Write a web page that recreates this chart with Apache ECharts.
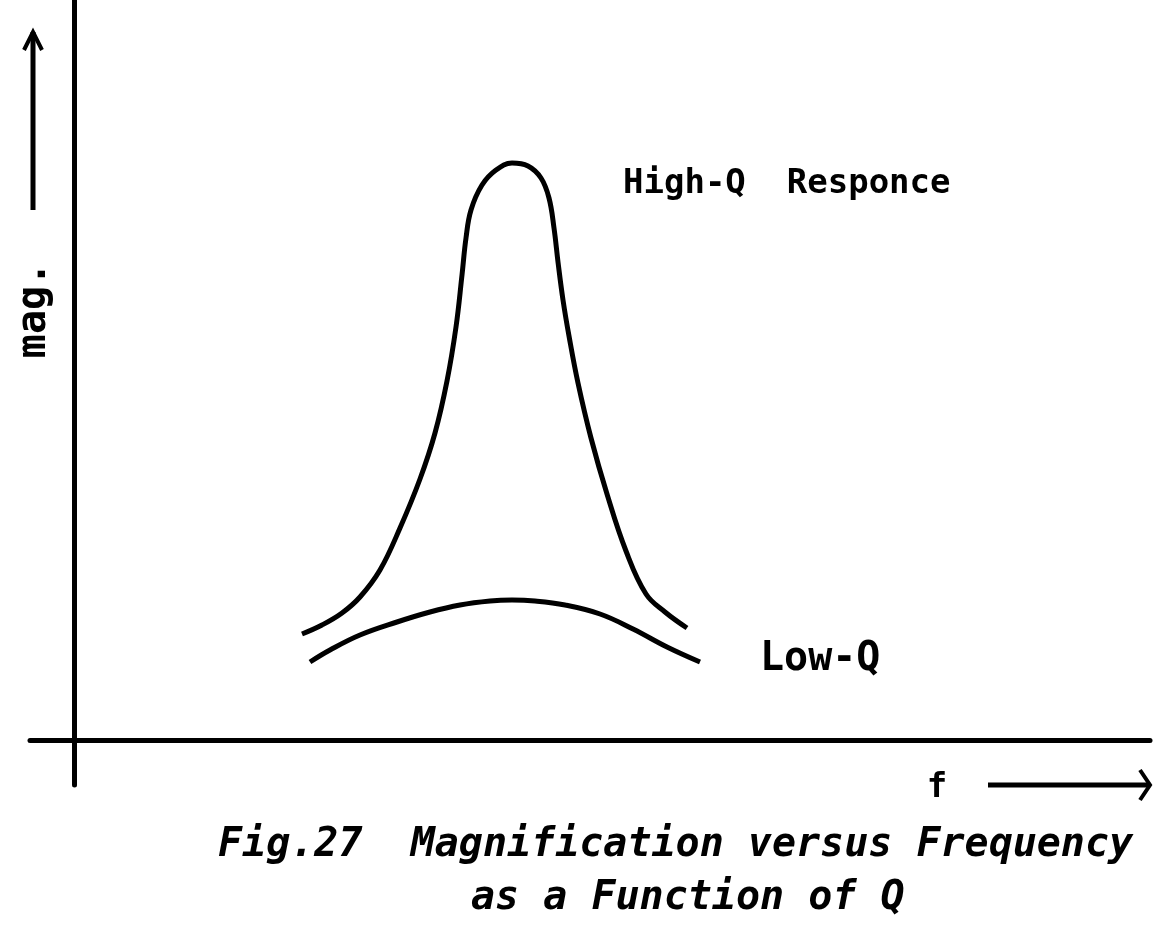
<!DOCTYPE html>
<html>
<head>
<meta charset="utf-8">
<script src="https://cdn.jsdelivr.net/npm/echarts@6/dist/echarts.min.js"></script>
<style>
html,body{margin:0;padding:0;background:#fff;}
#chart{width:1165px;height:928px;}
</style>
</head>
<body>
<div id="chart"></div>
<script>
// High-Q response: [frequency, magnitude]
const highQ = [
  [22.8,10.6],[24.8,11.5],[26.8,12.7],[28.6,14.3],[30.6,17.0],[32.6,21.2],
  [34.6,26.1],[36.1,30.7],[37.3,35.9],[38.2,41.3],[38.8,46.5],[39.2,50.2],
  [39.7,53.0],[40.8,55.5],[42.2,57.0],[43.8,57.7],[45.4,57.4],[46.7,56.2],
  [47.5,54.2],[48.0,51.2],[48.4,47.8],[48.9,44.0],[49.5,40.4],[50.4,35.7],
  [51.7,30.2],[53.3,24.6],[55.2,18.9],[57.2,14.6],[59.1,12.8],[61.3,11.2]
];
// Low-Q response: [frequency, magnitude]
const lowQ = [
  [23.6,7.8],[25.6,9.0],[28.6,10.5],[32.3,11.8],[35.6,12.8],[38.6,13.5],
  [41.6,13.9],[43.8,14.0],[46.1,13.9],[49.1,13.5],[52.6,12.6],[55.9,11.1],
  [59.3,9.3],[62.6,7.8]
];
const highLabel = 'High-Q  Responce';
const lowLabel = 'Low-Q';
const yLabel = 'mag.';
const xLabel = 'f';
const caption1 = 'Fig.27  Magnification versus Frequency';
const caption2 = 'as a Function of Q';

const mono = '"DejaVu Sans Mono", "Liberation Mono", monospace';
const chart = echarts.init(document.getElementById('chart'));
chart.setOption({
  backgroundColor: '#ffffff',
  animation: false,
  grid: {left: 30, right: 15, top: 0, bottom: 143},
  xAxis: {
    type: 'value', min: -4.4, max: 107.6,
    axisLine: {show: true, onZero: true, lineStyle: {color: '#000', width: 5}},
    axisTick: {show: false}, axisLabel: {show: false}, splitLine: {show: false}
  },
  yAxis: {
    type: 'value', min: -4.5, max: 74,
    axisLine: {show: true, onZero: true, lineStyle: {color: '#000', width: 5}},
    axisTick: {show: false}, axisLabel: {show: false}, splitLine: {show: false}
  },
  series: [
    {type: 'line', name: 'High-Q', data: highQ, smooth: 0.4, symbol: 'none',
     lineStyle: {color: '#000', width: 5}},
    {type: 'line', name: 'Low-Q', data: lowQ, smooth: 0.4, symbol: 'none',
     lineStyle: {color: '#000', width: 5}}
  ],
  graphic: [
    {type: 'line', shape: {x1: 33, y1: 210, x2: 33, y2: 32}, style: {stroke: '#000', lineWidth: 5}},
    {type: 'polyline', shape: {points: [[24, 50], [33, 32], [42, 50]]}, style: {stroke: '#000', lineWidth: 4, fill: null}},
    {type: 'text', x: 35, y: 310, rotation: Math.PI / 2,
     style: {text: yLabel, font: 'bold 40px ' + mono, fill: '#000', align: 'center', verticalAlign: 'middle'}},
    {type: 'text', x: 623, y: 184,
     style: {text: highLabel, font: 'bold 34px ' + mono, fill: '#000', align: 'left', verticalAlign: 'middle'}},
    {type: 'text', x: 760, y: 660,
     style: {text: lowLabel, font: 'bold 40px ' + mono, fill: '#000', align: 'left', verticalAlign: 'middle'}},
    {type: 'text', x: 937, y: 788,
     style: {text: xLabel, font: 'bold 34px ' + mono, fill: '#000', align: 'center', verticalAlign: 'middle'}},
    {type: 'line', shape: {x1: 988, y1: 785, x2: 1148, y2: 785}, style: {stroke: '#000', lineWidth: 5}},
    {type: 'polyline', shape: {points: [[1140, 770], [1150, 785], [1140, 800]]}, style: {stroke: '#000', lineWidth: 4, fill: null}},
    {type: 'text', x: 218, y: 846,
     style: {text: caption1, font: 'italic bold 40px ' + mono, fill: '#000', align: 'left', verticalAlign: 'middle'}},
    {type: 'text', x: 471, y: 899,
     style: {text: caption2, font: 'italic bold 40px ' + mono, fill: '#000', align: 'left', verticalAlign: 'middle'}}
  ]
});
</script>
</body>
</html>
